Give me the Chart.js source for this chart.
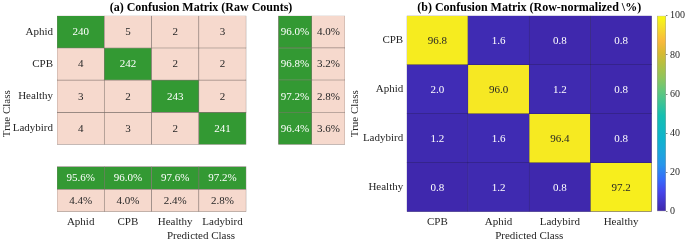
<!DOCTYPE html>
<html><head><meta charset="utf-8">
<script src="https://cdn.jsdelivr.net/npm/chart.js@4.4.0/dist/chart.umd.min.js"></script>
<style>
html,body{margin:0;padding:0;background:#fff;}
body{width:685px;height:243px;position:relative;overflow:hidden;}
canvas{position:absolute;top:0;}
</style></head><body>
<canvas id="cmA" width="352" height="243" style="left:0px"></canvas>
<canvas id="cmB" width="345" height="243" style="left:340px"></canvas>
<canvas id="cbar" width="35" height="243" style="left:650px"></canvas>
<script>
// ---------------- data ----------------
const classesA = ['Aphid', 'CPB', 'Healthy', 'Ladybird'];
const countsAphid    = [240, 5, 2, 3];
const countsCPB      = [4, 242, 2, 2];
const countsHealthy  = [3, 2, 243, 2];
const countsLadybird = [4, 3, 2, 241];
const rowCorrectPct = [96.0, 96.8, 97.2, 96.4];
const rowErrorPct   = [4.0, 3.2, 2.8, 3.6];
const colCorrectPct = [95.6, 96.0, 97.6, 97.2];
const colErrorPct   = [4.4, 4.0, 2.4, 2.8];

const classesB = ['CPB', 'Aphid', 'Ladybird', 'Healthy'];
const pctCPB      = [96.8, 1.6, 0.8, 0.8];
const pctAphid    = [2.0, 96.0, 1.2, 0.8];
const pctLadybird = [1.2, 1.6, 96.4, 0.8];
const pctHealthy  = [0.8, 1.2, 0.8, 97.2];
const colorbarTicks = [0, 20, 40, 60, 80, 100];

// ---------------- layout / style ----------------
const SERIF = '"Liberation Serif", "Times New Roman", serif';
const TICKC = '#262626';
const GREEN = 'rgb(51,153,51)';
const PINK = 'rgb(246,217,205)';
const EDGE_A = 'rgba(125,112,106,0.95)';
const EDGE_B = 'rgba(35,22,100,0.9)';
const L = { mainCol: 47.3, mainRow: 32.2, colGap: 32.3, sideCol: 33.3, rowGap: 22.2, sumRow: 22.5 };
const X_SIDE0 = 4 + L.colGap / L.mainCol;
const X_SIDE_W = L.sideCol / L.mainCol;
const X_MAX = X_SIDE0 + 2 * X_SIDE_W;
const PANEL_H = 4 * L.mainRow + L.rowGap + 2 * L.sumRow;
const Y_MAX = PANEL_H / L.mainRow;
const Y2_MAX = PANEL_H / L.sumRow;
const Y2_ACC = Y2_MAX - 1.5, Y2_ERR = Y2_MAX - 0.5;

Chart.defaults.font.family = SERIF;
Chart.defaults.font.size = 11;
Chart.defaults.color = TICKC;

const PARULA = [
  [0.00, [62, 38, 168]], [0.10, [71, 68, 234]], [0.16, [55, 104, 250]],
  [0.24, [39, 150, 235]], [0.30, [29, 166, 221]], [0.37, [15, 179, 205]],
  [0.49, [21, 191, 177]], [0.62, [101, 199, 122]], [0.68, [142, 197, 93]],
  [0.75, [179, 192, 66]], [0.81, [216, 186, 49]], [0.87, [249, 185, 60]],
  [0.95, [245, 227, 40]], [1.00, [249, 251, 14]]
];
function parula(t) {
  t = Math.max(0, Math.min(1, t));
  for (let i = 1; i < PARULA.length; i++) {
    const [t1, c1] = PARULA[i], [t0, c0] = PARULA[i - 1];
    if (t <= t1) {
      const f = (t - t0) / (t1 - t0);
      return 'rgb(' + c0.map((c, k) => Math.round(c + (c1[k] - c) * f)).join(',') + ')';
    }
  }
  return 'rgb(249,251,14)';
}

const cellText = {
  id: 'cellText',
  afterDatasetsDraw(chart) {
    const ctx = chart.ctx;
    chart.data.datasets.forEach((ds, i) => {
      if (!ds.texts) return;
      chart.getDatasetMeta(i).data.forEach((el, j) => {
        const p = el.getCenterPoint();
        ctx.save();
        ctx.font = (ds.textSize || 11) + 'px ' + SERIF;
        ctx.fillStyle = Array.isArray(ds.textColor) ? ds.textColor[j] : ds.textColor;
        ctx.textAlign = 'center';
        ctx.textBaseline = 'middle';
        ctx.fillText(ds.texts[j], p.x, p.y + 0.5);
        ctx.restore();
      });
    });
  }
};

const barCommon = { borderSkipped: false, barPercentage: 1, categoryPercentage: 1, grouped: false };

// ---------------- (a) raw counts ----------------
const countsRows = [countsAphid, countsCPB, countsHealthy, countsLadybird];
const dsA = [];
countsRows.forEach((row, r) => {
  dsA.push({
    data: row.map((v, j) => ({ x: [j, j + 1], y: r + 0.5 })),
    backgroundColor: row.map((v, j) => j === r ? GREEN : PINK),
    texts: row.map(String),
    textColor: row.map((v, j) => j === r ? '#ffffff' : TICKC)
  });
});
dsA.push({
  data: rowCorrectPct.map((v, r) => ({ x: [X_SIDE0, X_SIDE0 + X_SIDE_W], y: r + 0.5 })),
  backgroundColor: GREEN, texts: rowCorrectPct.map(v => v.toFixed(1) + '%'), textColor: '#ffffff'
});
dsA.push({
  data: rowErrorPct.map((v, r) => ({ x: [X_SIDE0 + X_SIDE_W, X_MAX], y: r + 0.5 })),
  backgroundColor: PINK, texts: rowErrorPct.map(v => v.toFixed(1) + '%'), textColor: TICKC
});
dsA.push({
  yAxisID: 'y2',
  data: colCorrectPct.map((v, j) => ({ x: [j, j + 1], y: Y2_ACC })),
  backgroundColor: GREEN, texts: colCorrectPct.map(v => v.toFixed(1) + '%'), textColor: '#ffffff'
});
dsA.push({
  yAxisID: 'y2',
  data: colErrorPct.map((v, j) => ({ x: [j, j + 1], y: Y2_ERR })),
  backgroundColor: PINK, texts: colErrorPct.map(v => v.toFixed(1) + '%'), textColor: TICKC
});
dsA.forEach(d => Object.assign(d, barCommon, { borderColor: EDGE_A, borderWidth: 0.6 }));

new Chart(document.getElementById('cmA'), {
  type: 'bar',
  data: { datasets: dsA },
  options: {
    responsive: false, animation: false, indexAxis: 'y',
    layout: { padding: { left: 0, right: 7, top: 0, bottom: 0 } },
    plugins: {
      legend: { display: false }, tooltip: { enabled: false },
      title: { display: true, text: '(a) Confusion Matrix (Raw Counts)', fullSize: false, color: '#000',
        font: { size: 12, weight: 'bold', family: SERIF }, padding: { top: 1, bottom: 0.3 } }
    },
    scales: {
      x: {
        type: 'linear', min: 0, max: X_MAX, bounds: 'data', offset: false,
        grid: { display: false, drawTicks: false }, border: { display: false },
        afterBuildTicks: s => { s.ticks = classesA.map((c, j) => ({ value: j + 0.5 })); },
        ticks: { callback: v => classesA[Math.floor(v)], autoSkip: false, maxRotation: 0, padding: 4 },
        title: { display: true, text: 'Predicted Class', padding: { top: 0, bottom: 0 } },
        afterFit: s => { s.height = 243 - (15.7 + PANEL_H); }
      },
      y: {
        type: 'linear', reverse: true, min: 0, max: Y_MAX, bounds: 'data', offset: false,
        grid: { display: false, drawTicks: false }, border: { display: false },
        afterBuildTicks: s => { s.ticks = classesA.map((c, r) => ({ value: r + 0.5 })); },
        ticks: { callback: v => classesA[Math.floor(v)], autoSkip: false, padding: 4 },
        title: { display: true, text: 'True Class', padding: { top: 1, bottom: 0 } },
        afterFit: s => { s.width = 57; }
      },
      y2: {
        type: 'linear', display: false, reverse: true, min: 0, max: Y2_MAX, bounds: 'data', offset: false,
        afterBuildTicks: s => { s.ticks = [{ value: Y2_ACC }, { value: Y2_ERR }]; }
      }
    }
  },
  plugins: [cellText]
});

// ---------------- (b) row-normalized ----------------
const pctRows = [pctCPB, pctAphid, pctLadybird, pctHealthy];
const dsB = pctRows.map((row, r) => Object.assign({
  data: row.map((v, j) => ({ x: [j, j + 1], y: classesB[r] })),
  backgroundColor: row.map(v => parula(v / 100)),
  texts: row.map(v => v.toFixed(1)),
  textColor: row.map(v => v > 50 ? TICKC : '#ffffff'),
  borderColor: EDGE_B, borderWidth: 0.5
}, barCommon));

new Chart(document.getElementById('cmB'), {
  type: 'bar',
  data: { labels: classesB, datasets: dsB },
  options: {
    responsive: false, animation: false, indexAxis: 'y',
    layout: { padding: { left: 0, right: 33.3, top: 0, bottom: 0 } },
    plugins: {
      legend: { display: false }, tooltip: { enabled: false },
      title: { display: true, text: '(b) Confusion Matrix (Row-normalized \\%)', fullSize: false, color: '#000',
        font: { size: 12, weight: 'bold', family: SERIF }, padding: { top: 1, bottom: 0.3 } }
    },
    scales: {
      x: {
        type: 'linear', min: 0, max: 4, bounds: 'data', offset: false,
        grid: { display: false, drawTicks: false }, border: { display: false },
        afterBuildTicks: s => { s.ticks = classesB.map((c, j) => ({ value: j + 0.5 })); },
        ticks: { callback: v => classesB[Math.floor(v)], autoSkip: false, maxRotation: 0, padding: 4 },
        title: { display: true, text: 'Predicted Class', padding: { top: 0, bottom: 0 } },
        afterFit: s => { s.height = 243 - 211.7; }
      },
      y: {
        type: 'category', offset: true,
        grid: { display: false, drawTicks: false }, border: { display: false },
        ticks: { padding: 3.5 },
        title: { display: true, text: 'True Class', padding: { top: 8.4, bottom: 0 } },
        afterFit: s => { s.width = 66.7; }
      }
    }
  },
  plugins: [cellText]
});

// ---------------- colorbar ----------------
new Chart(document.getElementById('cbar'), {
  type: 'bar',
  data: {
    labels: ['cb'],
    datasets: [{
      data: [[0, 100]],
      backgroundColor: (c) => {
        const ch = c.chart;
        if (!ch.chartArea) return null;
        const ys = ch.scales.y;
        const g = ch.ctx.createLinearGradient(0, ys.getPixelForValue(0), 0, ys.getPixelForValue(100));
        PARULA.forEach(([t, col]) => g.addColorStop(t, 'rgb(' + col.join(',') + ')'));
        return g;
      },
      borderColor: '#a3a3a3', borderWidth: 0.8, borderSkipped: false,
      barPercentage: 1, categoryPercentage: 1
    }]
  },
  options: {
    responsive: false, animation: false,
    layout: { padding: { left: 7, right: 0, top: 15.7, bottom: 243 - 211.7 } },
    plugins: { legend: { display: false }, tooltip: { enabled: false } },
    scales: {
      x: { display: false, offset: true },
      y: {
        position: 'right', min: 0, max: 100, bounds: 'data',
        afterBuildTicks: s => { s.ticks = colorbarTicks.map(v => ({ value: v })); },
        grid: { display: true, drawOnChartArea: false, tickLength: 1.5, color: '#8a8a8a' },
        border: { display: false },
        ticks: { padding: 2.5, font: { size: 10 } },
        afterFit: s => { s.width = 19; }
      }
    }
  }
});
</script>
</body></html>
